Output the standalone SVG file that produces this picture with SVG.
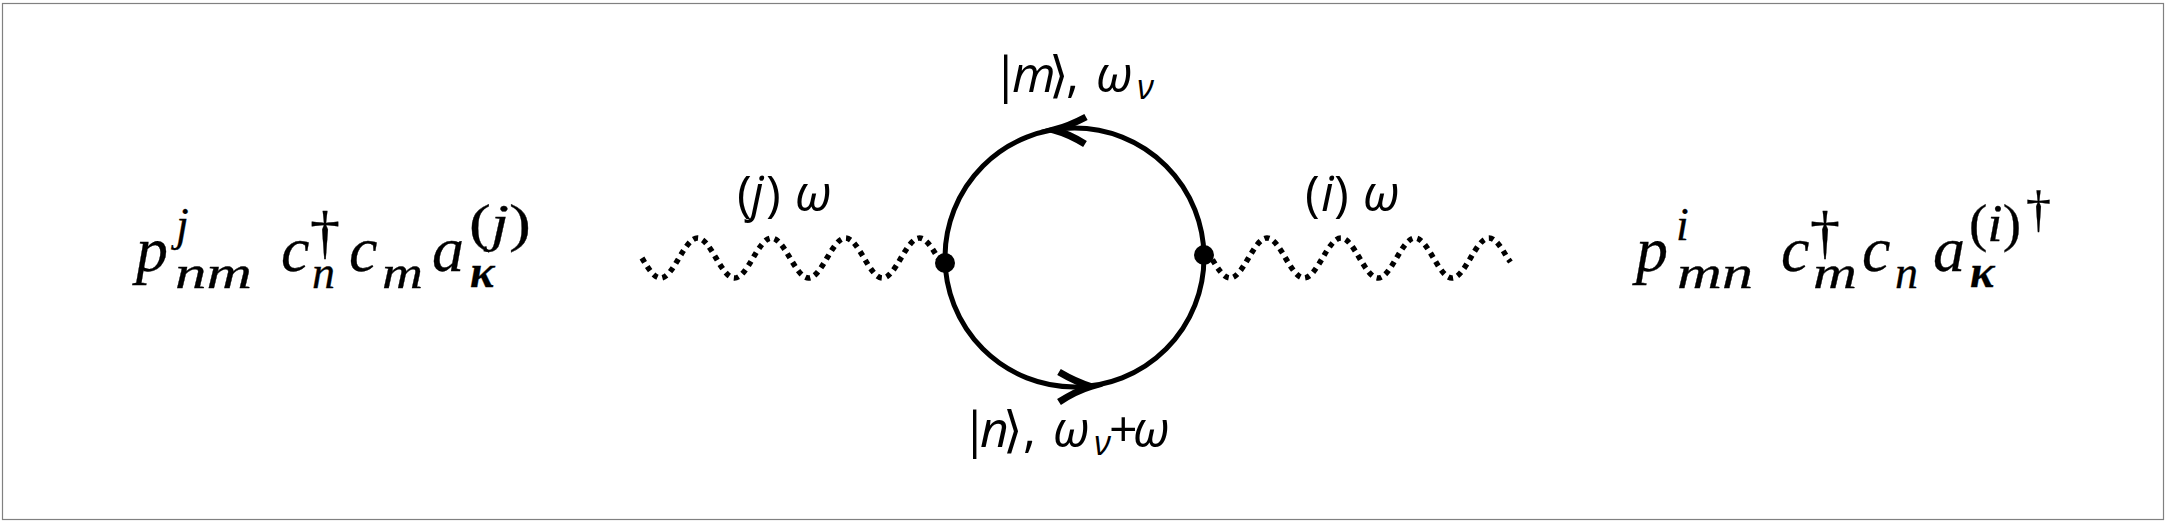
<svg xmlns="http://www.w3.org/2000/svg" width="2166" height="524" viewBox="0 0 2166 524">
<style>
.math{font-family:"Liberation Serif","Times New Roman",serif;font-style:italic;fill:#000;stroke:#000;stroke-width:0.3}
.up{font-style:normal}
.bold{font-weight:bold}
.lbl{font-family:"Open Sans","DejaVu Sans",sans-serif;font-size:50px;fill:#000}
.it{font-style:italic}
.wave{fill:none;stroke:#000;stroke-width:5.5;stroke-dasharray:5 5}
.line{fill:none;stroke:#000;stroke-width:5}
.head{fill:none;stroke:#000;stroke-width:7;stroke-linejoin:miter}
</style>
<rect x="2.5" y="3.5" width="2161" height="516" fill="#fff" stroke="#808080" stroke-width="1.2"/>

<g id="left-expr">
<text class="math" x="136" y="271" font-size="64">p</text>
<text class="math" x="176" y="240" font-size="46">j</text>
<text class="math" x="175" y="288" font-size="46" textLength="77" lengthAdjust="spacingAndGlyphs">nm</text>
<text class="math" x="281" y="271" font-size="64">c</text>
<text class="math up" x="310" y="252" font-size="60">†</text>
<text class="math" x="312" y="288" font-size="46">n</text>
<text class="math" x="349" y="271" font-size="64">c</text>
<text class="math" x="382" y="288" font-size="46" textLength="41" lengthAdjust="spacingAndGlyphs">m</text>
<text class="math" x="432" y="271" font-size="64">a</text>
<text class="math" x="469" y="241" font-size="52" textLength="62" lengthAdjust="spacingAndGlyphs"><tspan class="up">(</tspan>j<tspan class="up">)</tspan></text>
<text class="math bold" x="470" y="287" font-size="46">κ</text>
</g>

<g id="right-expr">
<text class="math" x="1636" y="271" font-size="64">p</text>
<text class="math" x="1676" y="240" font-size="46">i</text>
<text class="math" x="1677" y="288" font-size="46" textLength="76" lengthAdjust="spacingAndGlyphs">mn</text>
<text class="math" x="1781" y="271" font-size="64">c</text>
<text class="math up" x="1810" y="252" font-size="60">†</text>
<text class="math" x="1813" y="288" font-size="46" textLength="44" lengthAdjust="spacingAndGlyphs">m</text>
<text class="math" x="1862" y="271" font-size="64">c</text>
<text class="math" x="1895" y="288" font-size="46">n</text>
<text class="math" x="1933" y="271" font-size="64">a</text>
<text class="math" x="1969" y="241" font-size="52" textLength="52" lengthAdjust="spacingAndGlyphs"><tspan class="up">(</tspan>i<tspan class="up">)</tspan></text>
<text class="math bold" x="1970" y="287" font-size="46">κ</text>
<text class="math up" x="2026" y="226" font-size="50">†</text>
</g>

<g id="loop">
<circle class="line" cx="1074.5" cy="257.5" r="129.5"/>
<path class="head" d="M1086,117 Q1069,126 1054,130 Q1069,134 1085,144"/>
<path class="head" d="M1059,372 Q1076,382 1091,386.5 Q1076,391 1059,402"/>
</g>

<g id="connectors">
<path class="wave" d="M642,258 c6.03,10.25 12.05,20 18.5,20 c6.45,0 12.47,-9.75 18.5,-20 c6.03,-10.25 12.05,-20 18.5,-20 c6.45,0 12.47,9.75 18.5,20 c6.03,10.25 12.05,20 18.5,20 c6.45,0 12.47,-9.75 18.5,-20 c6.03,-10.25 12.05,-20 18.5,-20 c6.45,0 12.47,9.75 18.5,20 c6.03,10.25 12.05,20 18.5,20 c6.45,0 12.47,-9.75 18.5,-20 c6.03,-10.25 12.05,-20 18.5,-20 c6.45,0 12.47,9.75 18.5,20 c6.03,10.25 12.05,20 18.5,20 c6.45,0 12.47,-9.75 18.5,-20 c6.03,-10.25 12.05,-20 18.5,-20 c6.45,0 12.47,9.75 18.5,20 c2.5,2.5 4.5,4 7,5"/>
<path class="wave" d="M1204,255 c2.5,0 5,1 7.5,3 c6.03,10.25 12.05,20 18.5,20 c6.45,0 12.47,-9.75 18.5,-20 c6.03,-10.25 12.05,-20 18.5,-20 c6.45,0 12.47,9.75 18.5,20 c6.03,10.25 12.05,20 18.5,20 c6.45,0 12.47,-9.75 18.5,-20 c6.03,-10.25 12.05,-20 18.5,-20 c6.45,0 12.47,9.75 18.5,20 c6.03,10.25 12.05,20 18.5,20 c6.45,0 12.47,-9.75 18.5,-20 c6.03,-10.25 12.05,-20 18.5,-20 c6.45,0 12.47,9.75 18.5,20 c6.03,10.25 12.05,20 18.5,20 c6.45,0 12.47,-9.75 18.5,-20 c6.03,-10.25 12.05,-20 18.5,-20 c6.45,0 12.47,9.75 18.5,20 c1,1.3 2,2.6 3,4"/>
</g>

<g id="vertices">
<circle cx="945" cy="263" r="10" fill="#000"/>
<circle cx="1204" cy="255" r="10" fill="#000"/>
</g>

<g id="labels">
<text class="lbl" y="211"><tspan x="737">(</tspan><tspan x="751" class="it">j</tspan><tspan x="766">)</tspan><tspan x="795" class="it">ω</tspan></text>
<text class="lbl" y="211"><tspan x="1305">(</tspan><tspan x="1321" class="it">i</tspan><tspan x="1334">)</tspan><tspan x="1363" class="it">ω</tspan></text>
<text class="lbl" y="92"><tspan x="992">|</tspan><tspan x="1012" class="it">m</tspan><tspan x="1049">⟩</tspan><tspan x="1066">,</tspan><tspan x="1096" class="it">ω</tspan><tspan x="1137" y="99" class="it" font-size="34">ν</tspan></text>
<text class="lbl" y="447"><tspan x="961">|</tspan><tspan x="980" class="it">n</tspan><tspan x="1003">⟩</tspan><tspan x="1023">,</tspan><tspan x="1053" class="it">ω</tspan><tspan x="1094" y="455" class="it" font-size="34">ν</tspan><tspan x="1109" y="447">+</tspan><tspan x="1133" class="it">ω</tspan></text>
</g>
</svg>
